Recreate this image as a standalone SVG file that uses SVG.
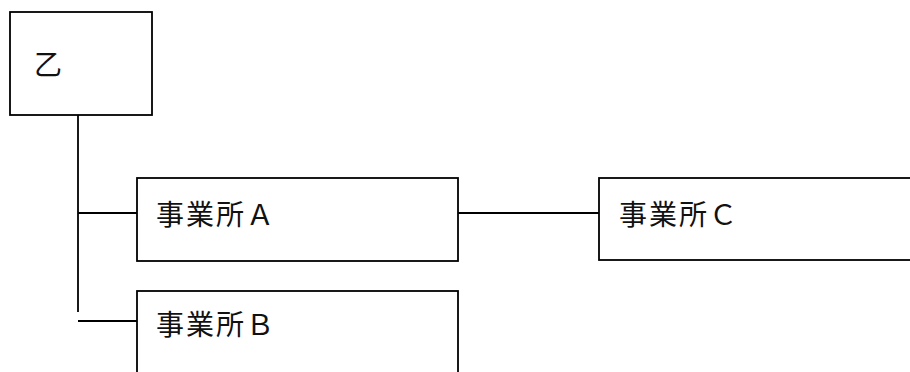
<svg xmlns="http://www.w3.org/2000/svg" width="910" height="372" viewBox="0 0 910 372">
<style>
.box{fill:#fff;stroke:#000;stroke-width:1.8}
.ln{stroke:#000;stroke-width:1.8;fill:none}
.t{font-family:"Noto Sans CJK JP","Liberation Serif",serif;font-size:28px;letter-spacing:2px;fill:#111}
</style>
<rect width="910" height="372" fill="#fff"/>
<g id="connectors">
<line class="ln" x1="78" y1="115" x2="78" y2="312"/>
<line class="ln" x1="78" y1="213" x2="137" y2="213"/>
<line class="ln" x1="78" y1="321" x2="137" y2="321"/>
<line class="ln" x1="458" y1="213" x2="599" y2="213"/>
</g>
<g id="node-otsu">
<rect class="box" x="10" y="12" width="142" height="103"/>
<text class="t" x="34" y="75">乙</text>
</g>
<g id="node-a">
<rect class="box" x="137" y="178" width="321" height="83"/>
<text class="t" x="156" y="225">事業所Ａ</text>
</g>
<g id="node-b">
<rect class="box" x="137" y="291" width="321" height="90"/>
<text class="t" x="156" y="335">事業所Ｂ</text>
</g>
<g id="node-c">
<rect class="box" x="599" y="178" width="320" height="82"/>
<text class="t" x="619" y="225">事業所Ｃ</text>
</g>
</svg>
